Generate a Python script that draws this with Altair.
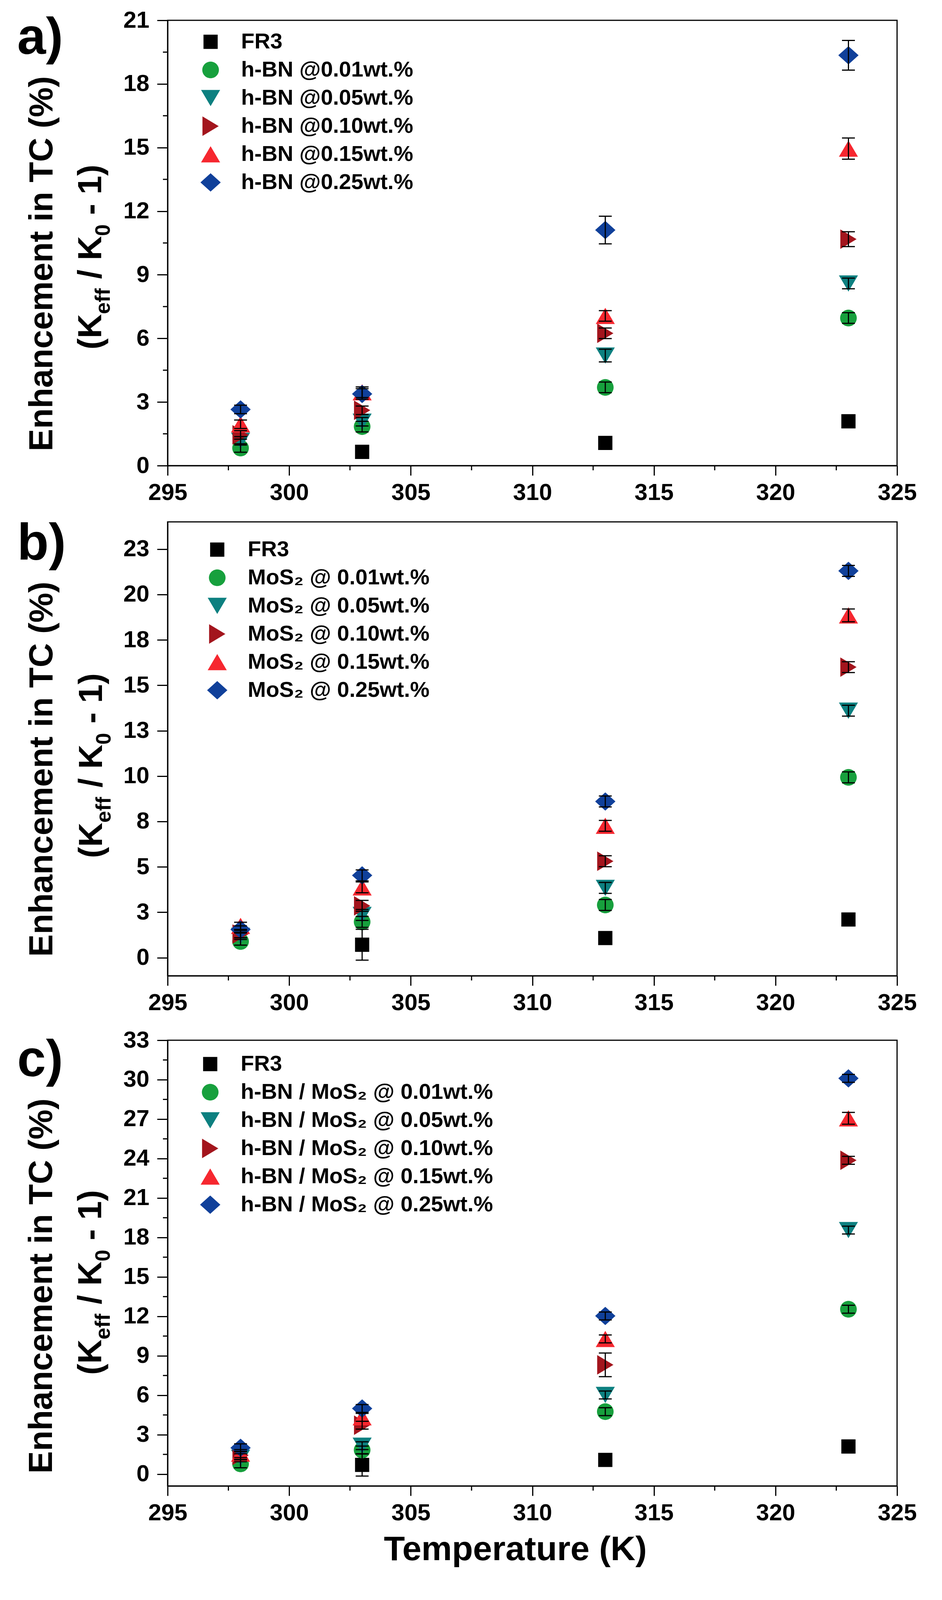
import altair as alt
import pandas as pd

FONT = "Liberation Sans"

temps = [298, 303, 313, 323]

colors = ["#000000", "#17a03d", "#0d8080", "#a3151d", "#f6272f", "#10409a"]
# custom marker paths (all drawn with one size, scaled by sqrt(size)/2)
shapes = [
    "M-0.7,-0.7L0.7,-0.7L0.7,0.7L-0.7,0.7Z",
    "M0.82,0A0.82,0.82,0,1,1,-0.82,0A0.82,0.82,0,1,1,0.82,0Z",
    "M-0.94,-0.8L0.94,-0.8L0,0.8Z",
    "M-0.8,-0.96L0.8,0L-0.8,0.96Z",
    "M0,-0.8L0.94,0.8L-0.94,0.8Z",
    "M-1,0L0,-0.9L1,0L0,0.9Z",
]
MARK_SIZE = 2700

# panel a: h-BN
a_names = ["FR3", "h-BN @0.01wt.%", "h-BN @0.05wt.%", "h-BN @0.10wt.%",
           "h-BN @0.15wt.%", "h-BN @0.25wt.%"]
a_vals = [
    [None, 0.65, 1.07, 2.09],
    [0.83, 1.84, 3.69, 6.96],
    [1.17, 2.07, 5.19, 8.59],
    [1.45, 2.61, 6.24, 10.68],
    [1.95, 3.46, 7.06, 14.95],
    [2.65, 3.38, 11.11, 19.35],
]
a_errs = [
    [None, 0.25, 0.2, 0.2],
    [0.2, 0.25, 0.25, 0.25],
    [0.2, 0.2, 0.3, 0.25],
    [0.2, 0.2, 0.25, 0.35],
    [0.2, 0.25, 0.25, 0.5],
    [0.2, 0.25, 0.65, 0.7],
]

# panel b: MoS2
b_names = ["FR3", "MoS₂ @ 0.01wt.%", "MoS₂ @ 0.05wt.%", "MoS₂ @ 0.10wt.%",
           "MoS₂  @ 0.15wt.%", "MoS₂ @ 0.25wt.%"]
b_vals = [
    [None, 0.71, 1.08, 2.10],
    [0.89, 1.97, 2.90, 9.93],
    [1.20, 2.35, 3.84, 13.6],
    [1.30, 2.85, 5.31, 16.0],
    [1.75, 3.87, 7.26, 18.85],
    [1.55, 4.53, 8.60, 21.3],
]
b_errs = [
    [None, 0.85, 0.15, 0.15],
    [0.2, 0.3, 0.3, 0.3],
    [0.2, 0.3, 0.3, 0.3],
    [0.2, 0.3, 0.3, 0.3],
    [0.2, 0.3, 0.3, 0.35],
    [0.2, 0.3, 0.3, 0.3],
]

# panel c: h-BN / MoS2 hybrid
c_names = ["FR3", "h-BN / MoS₂ @ 0.01wt.%", "h-BN / MoS₂ @ 0.05wt.%",
           "h-BN / MoS₂ @ 0.10wt.%", "h-BN / MoS₂  @ 0.15wt.%",
           "h-BN / MoS₂ @ 0.25wt.%"]
c_vals = [
    [None, 0.70, 1.08, 2.10],
    [0.78, 1.83, 4.75, 12.54],
    [1.24, 2.16, 6.02, 18.56],
    [1.43, 3.72, 8.31, 23.87],
    [1.56, 4.32, 10.28, 27.06],
    [2.00, 4.99, 12.03, 30.1],
]
c_errs = [
    [None, 0.85, 0.15, 0.15],
    [0.3, 0.3, 0.3, 0.3],
    [0.3, 0.3, 0.3, 0.3],
    [0.3, 0.3, 0.9, 0.3],
    [0.3, 0.3, 0.3, 0.45],
    [0.3, 0.3, 0.3, 0.3],
]

x_major = [295, 300, 305, 310, 315, 320, 325]
x_minor = [297.5, 302.5, 307.5, 312.5, 317.5, 322.5]
a_major = [0, 3, 6, 9, 12, 15, 18, 21]
a_minor = [1.5, 4.5, 7.5, 10.5, 13.5, 16.5, 19.5]
b_major = [0, 2.5, 5, 7.5, 10, 12.5, 15, 17.5, 20, 22.5]
c_major = [0, 3, 6, 9, 12, 15, 18, 21, 24, 27, 30, 33]
c_minor = [1.5, 4.5, 7.5, 10.5, 13.5, 16.5, 19.5, 22.5, 25.5, 28.5, 31.5]

WIDTH = 1867

# Arial-bold advance widths, used to lay out the rotated title with subscripts
CHAR_W = {"(": .333, ")": .333, "K": .722, "e": .556, "f": .333, "/": .278,
          " ": .278, "0": .556, "-": .333, "1": .556}


def build_df(names, vals, errs):
    rows = []
    for name, v, e in zip(names, vals, errs):
        for t, y, d in zip(temps, v, e):
            if y is None:
                continue
            rows.append({"T": t, "series": name, "val": y,
                         "lo": y - d, "hi": y + d})
    return pd.DataFrame(rows)


def text_layer(txt, x, y, size, angle=0, align="left"):
    return alt.Chart(alt.Data(values=[{}])).mark_text(
        text=txt, font=FONT, fontSize=size, fontWeight="bold", color="black",
        angle=angle, align=align, baseline="alphabetic"
    ).encode(x=alt.value(x), y=alt.value(y))


def ytitle_layers(lay):
    big, small = 86, 54
    layers = [text_layer("Enhancement in TC (%)", lay["t1_x"], lay["t1_y"],
                         big, angle=270, align="center")]
    segs = [("(K", big, 0), ("eff", small, 1), (" ", big, None), ("/", big, 0),
            (" ", big, None), ("K", big, 0), ("0", small, 1), (" ", big, None),
            ("-", big, 0), (" ", big, None), ("1)", big, 0)]
    total = sum(sum(CHAR_W[c] for c in s) * sz for s, sz, _ in segs)
    start = lay["t2_y"] + total / 2
    cursor = 0
    for s, sz, sub in segs:
        w = sum(CHAR_W[c] for c in s) * sz
        if sub is not None:
            layers.append(text_layer(s, lay["t2_x"] + 22 * sub, start - cursor,
                                     sz, angle=270, align="left"))
        cursor += w
    return layers


def panel(names, vals, errs, ydom, ymajor, yminor, height, lay,
          ylabel_expr=None, xtitle=False):
    df = build_df(names, vals, errs)
    xscale = alt.Scale(domain=[295, 325], nice=False, zero=False)
    yscale = alt.Scale(domain=ydom, nice=False, zero=False)

    yaxis_kw = dict(values=ymajor, title=None, tickSize=27, labelPadding=20,
                    format="d", labelOverlap=False, labelFlush=False,
                    grid=False)
    if ylabel_expr:
        yaxis_kw["labelExpr"] = ylabel_expr

    legend = alt.Legend(
        orient="none", legendX=lay["leg_x"], legendY=lay["leg_y"], title=None,
        labelFont=FONT, labelFontSize=56, labelFontWeight="bold",
        labelColor="black", symbolSize=MARK_SIZE, symbolStrokeWidth=0,
        symbolOpacity=1, rowPadding=16, labelOffset=50, padding=0,
        labelLimit=3000,
    )

    base = alt.Chart(df)
    pts = base.mark_point(filled=True, size=MARK_SIZE, opacity=1).encode(
        x=alt.X("T:Q", scale=xscale,
                axis=alt.Axis(values=x_major, title=None, tickSize=25,
                              labelPadding=15, format="d", labelFlush=False,
                              labelOverlap=False, grid=False)),
        y=alt.Y("val:Q", scale=yscale, axis=alt.Axis(**yaxis_kw)),
        color=alt.Color("series:N", sort=names,
                        scale=alt.Scale(domain=names, range=colors),
                        legend=legend),
        shape=alt.Shape("series:N", sort=names,
                        scale=alt.Scale(domain=names, range=shapes),
                        legend=legend),
    )
    bars = base.mark_rule(color="black", strokeWidth=3).encode(
        x="T:Q", y="lo:Q", y2="hi:Q")
    cap_lo = base.mark_tick(orient="horizontal", size=33, thickness=3,
                            color="black", opacity=1).encode(x="T:Q", y="lo:Q")
    cap_hi = base.mark_tick(orient="horizontal", size=33, thickness=3,
                            color="black", opacity=1).encode(x="T:Q", y="hi:Q")

    xminor_rules = alt.Chart(pd.DataFrame({"v": x_minor})).mark_rule(
        color="black", strokeWidth=3).encode(
        x=alt.X("v:Q", scale=xscale), y=alt.value(height),
        y2=alt.value(height + 12))

    layers = [pts, bars, cap_lo, cap_hi, xminor_rules]
    if yminor:
        layers.append(alt.Chart(pd.DataFrame({"v": yminor})).mark_rule(
            color="black", strokeWidth=3).encode(
            y=alt.Y("v:Q", scale=yscale), x=alt.value(0), x2=alt.value(-12)))

    layers.append(text_layer(lay["label"], lay["lab_x"], lay["lab_y"], 132))
    layers += ytitle_layers(lay)
    if xtitle:
        layers.append(text_layer("Temperature (K)", 890, height + 190, 88,
                                 align="center"))

    return alt.layer(*layers).properties(width=WIDTH, height=height)


lay_a = dict(label="a)", lab_x=-385, lab_y=86, t1_x=-295, t1_y=623,
             t2_x=-170, t2_y=606, leg_x=82, leg_y=27)
lay_b = dict(label="b)", lab_x=-385, lab_y=97, t1_x=-295, t1_y=633,
             t2_x=-168, t2_y=624, leg_x=99, leg_y=43)
lay_c = dict(label="c)", lab_x=-385, lab_y=92, t1_x=-296, t1_y=629,
             t2_x=-170, t2_y=620, leg_x=81, leg_y=33)

pa = panel(a_names, a_vals, a_errs, [0, 21], a_major, a_minor, 1140, lay_a)
pb = panel(b_names, b_vals, b_errs, [-1, 24], b_major, None, 1162, lay_b,
           ylabel_expr="format(round(datum.value), 'd')")
pc = panel(c_names, c_vals, c_errs, [-0.9, 33], c_major, c_minor, 1141, lay_c,
           xtitle=True)

chart = alt.vconcat(pa, pb, pc, spacing=32).resolve_scale(
    color="independent", shape="independent", y="independent"
).resolve_legend(
    color="independent", shape="independent"
).properties(
    padding={"left": 34, "top": 12, "right": 10, "bottom": 4},
    background="white"
).configure_view(
    stroke="black", strokeWidth=3
).configure_axis(
    domainColor="black", domainWidth=3, tickColor="black", tickWidth=3,
    labelFont=FONT, labelFontSize=60, labelFontWeight="bold",
    labelColor="black", grid=False
)

chart.save("out.html", embed_options={"renderer": "svg", "actions": False})
